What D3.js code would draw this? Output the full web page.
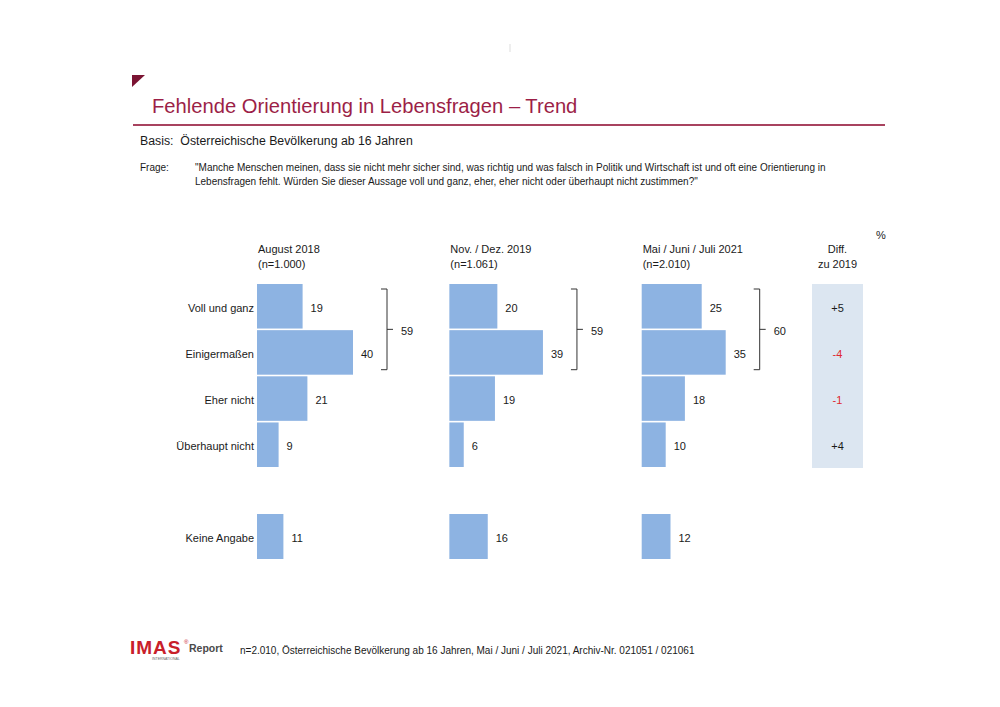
<!DOCTYPE html>
<html>
<head>
<meta charset="utf-8">
<script src="https://cdn.jsdelivr.net/npm/d3@7"></script>
<style>
  html, body { margin: 0; padding: 0; background: #fff; }
  svg text { font-family: "Liberation Sans", Arial, sans-serif; }
</style>
</head>
<body>
<svg id="chart" width="1000" height="707"></svg>
<script>
// ---- data ----
const categories = ["Voll und ganz", "Einigermaßen", "Eher nicht", "Überhaupt nicht"];
const waves = ["August 2018", "Nov. / Dez. 2019", "Mai / Juni / Juli 2021"];
const sampleSizes = ["(n=1.000)", "(n=1.061)", "(n=2.010)"];
const values2018 = [19, 40, 21, 9];
const values2019 = [20, 39, 19, 6];
const values2021 = [25, 35, 18, 10];
const noAnswerLabel = "Keine Angabe";
const noAnswer = [11, 16, 12];
const topTwo = [59, 59, 60];
const diffs = ["+5", "-4", "-1", "+4"];
const diffHeader = ["Diff.", "zu 2019"];

const title = "Fehlende Orientierung in Lebensfragen – Trend";
const basis = "Basis:  Österreichische Bevölkerung ab 16 Jahren";
const frageLabel = "Frage:";
const frageLines = [
  "\"Manche Menschen meinen, dass sie nicht mehr sicher sind, was richtig und was falsch in Politik und Wirtschaft ist und oft eine Orientierung in",
  "Lebensfragen fehlt. Würden Sie dieser Aussage voll und ganz, eher, eher nicht oder überhaupt nicht zustimmen?\""
];
const footer = "n=2.010, Österreichische Bevölkerung ab 16 Jahren, Mai / Juni / Juli 2021, Archiv-Nr. 021051 / 021061";

const series = [values2018, values2019, values2021];

// ---- layout ----
const svg = d3.select("#chart");
const maroon = "#9c1f47";
const barColor = "#8db3e2";
const textColor = "#1a1a1a";

// header
svg.append("path")
  .attr("d", "M132,75 L145,75 L132,87 Z")
  .attr("fill", "#7b1433");
svg.append("text").attr("x", 152).attr("y", 113)
  .attr("font-size", 20.2).attr("fill", maroon).text(title);
svg.append("line").attr("x1", 133).attr("x2", 885).attr("y1", 125).attr("y2", 125)
  .attr("stroke", "#a8435f").attr("stroke-width", 2);
svg.append("text").attr("x", 140).attr("y", 145)
  .attr("font-size", 12.3).attr("fill", textColor).text(basis)
  .attr("xml:space", "preserve");
svg.append("text").attr("x", 140).attr("y", 171)
  .attr("font-size", 10).attr("fill", textColor).text(frageLabel);
frageLines.forEach((t, i) => {
  svg.append("text").attr("x", 195).attr("y", 171 + i * 14)
    .attr("font-size", 10).attr("fill", textColor).text(t);
});
// faint mark at top
svg.append("line").attr("x1", 510).attr("x2", 510).attr("y1", 44).attr("y2", 52)
  .attr("stroke", "#ddd").attr("stroke-width", 1);

// scales
const panelX = d3.scaleLinear().domain([0, waves.length - 1]).range([257, 641.7]);
const x = d3.scaleLinear().domain([0, 100]).range([0, 240]);
const y = d3.scaleBand().domain(categories).range([284, 467]).paddingInner(0.035).paddingOuter(0);
const yNo = d3.scaleBand().domain([noAnswerLabel]).range([514, 559]);
const labDy = "0.5em";

// category labels
svg.append("g").selectAll("text").data(categories).join("text")
  .attr("x", 254).attr("y", d => y(d) + y.bandwidth() / 2)
  .attr("dy", labDy).attr("text-anchor", "end")
  .attr("font-size", 11).attr("fill", textColor).text(d => d);
svg.append("text").attr("x", 254).attr("y", yNo(noAnswerLabel) + yNo.bandwidth() / 2)
  .attr("dy", labDy).attr("text-anchor", "end")
  .attr("font-size", 11).attr("fill", textColor).text(noAnswerLabel);

// panels
series.forEach((vals, pi) => {
  const x0 = panelX(pi);
  const g = svg.append("g").attr("transform", `translate(${x0},0)`);
  g.append("text").attr("x", 1).attr("y", 253).attr("font-size", 11).attr("fill", textColor).text(waves[pi]);
  g.append("text").attr("x", 1).attr("y", 268).attr("font-size", 11).attr("fill", textColor).text(sampleSizes[pi]);

  g.selectAll("rect.bar").data(vals).join("rect").attr("class", "bar")
    .attr("x", 0).attr("y", (d, i) => y(categories[i]))
    .attr("width", d => x(d)).attr("height", y.bandwidth())
    .attr("fill", barColor);
  g.selectAll("text.val").data(vals).join("text").attr("class", "val")
    .attr("x", d => x(d) + 8).attr("y", (d, i) => y(categories[i]) + y.bandwidth() / 2)
    .attr("dy", labDy).attr("font-size", 11).attr("fill", textColor).text(d => d);

  // no answer
  g.append("rect").attr("x", 0).attr("y", yNo(noAnswerLabel))
    .attr("width", x(noAnswer[pi])).attr("height", yNo.bandwidth()).attr("fill", barColor);
  g.append("text").attr("x", x(noAnswer[pi]) + 8).attr("y", yNo(noAnswerLabel) + yNo.bandwidth() / 2)
    .attr("dy", labDy).attr("font-size", 11).attr("fill", textColor).text(noAnswer[pi]);

  // bracket
  const bx = x(Math.max(vals[0], vals[1])) + 34;
  const top = y(categories[0]) + 5;
  const bot = y(categories[1]) + y.bandwidth() - 5;
  const mid = y(categories[1]) - (y.step() - y.bandwidth()) / 2;
  g.append("path")
    .attr("d", `M${bx - 6},${top} L${bx},${top} L${bx},${bot} L${bx - 6},${bot} M${bx},${mid} L${bx + 6},${mid}`)
    .attr("fill", "none").attr("stroke", "#333").attr("stroke-width", 1);
  g.append("text").attr("x", bx + 14).attr("y", mid).attr("dy", labDy)
    .attr("font-size", 11).attr("fill", textColor).text(topTwo[pi]);
});

// diff column
const dx0 = 812, dw = 51;
svg.append("rect").attr("x", dx0).attr("y", 284).attr("width", dw).attr("height", 184)
  .attr("fill", "#dce6f1");
svg.append("text").attr("x", dx0 + dw / 2).attr("y", 253).attr("text-anchor", "middle")
  .attr("font-size", 11).attr("fill", textColor).text(diffHeader[0]);
svg.append("text").attr("x", dx0 + dw / 2).attr("y", 268).attr("text-anchor", "middle")
  .attr("font-size", 11).attr("fill", textColor).text(diffHeader[1]);
svg.append("text").attr("x", 876).attr("y", 239)
  .attr("font-size", 11).attr("fill", textColor).text("%");
svg.append("g").selectAll("text").data(diffs).join("text")
  .attr("x", dx0 + dw / 2).attr("y", (d, i) => y(categories[i]) + y.bandwidth() / 2)
  .attr("dy", labDy).attr("text-anchor", "middle").attr("font-size", 11)
  .attr("fill", d => d.startsWith("-") ? "#e0282e" : textColor).text(d => d);

// footer logo
const logo = svg.append("g");
logo.append("text").attr("x", 130).attr("y", 654).attr("font-size", 19).attr("font-weight", "bold")
  .attr("fill", "#c8202a").attr("letter-spacing", 1).text("IMAS");
logo.append("text").attr("x", 184).attr("y", 644).attr("font-size", 6).attr("fill", "#c8202a").text("®");
logo.append("text").attr("x", 189).attr("y", 652).attr("font-size", 10.5).attr("font-weight", "bold")
  .attr("fill", "#4a4a4a").text("Report");
logo.append("text").attr("x", 152).attr("y", 660).attr("font-size", 3.5).attr("fill", "#666").text("INTERNATIONAL");
svg.append("text").attr("x", 240).attr("y", 654).attr("font-size", 10).attr("fill", textColor).text(footer);
</script>
</body>
</html>
